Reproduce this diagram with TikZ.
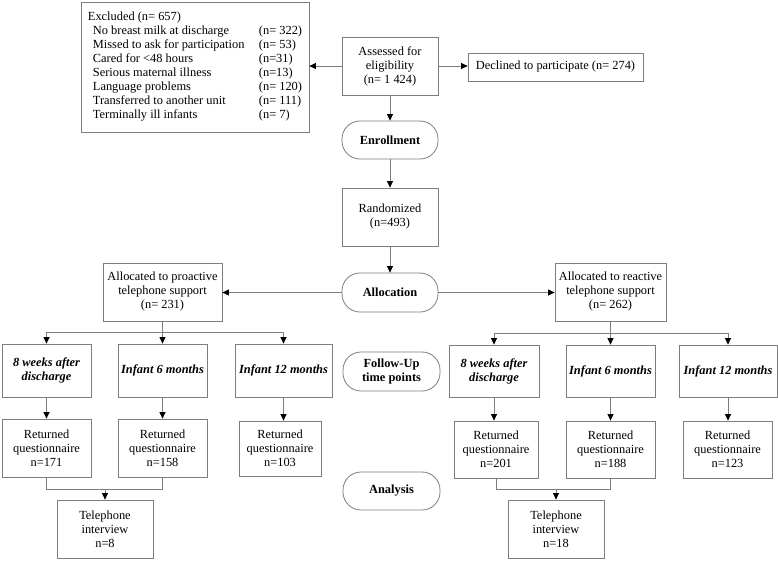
\documentclass[tikz,border=0pt]{standalone}
\usepackage{fontspec}
\setmainfont{Liberation Serif}
\usetikzlibrary{arrows.meta,calc}
\definecolor{lg}{RGB}{125,125,125}
\tikzset{
  x=1pt,y=-1pt,
  box/.style={draw=lg,line width=0.8pt,rectangle,inner sep=1pt,align=center,
     font=\fontsize{12.4}{14}\selectfont},
  rbox/.style={box,rounded corners=18pt,font=\fontsize{12.4}{14}\selectfont\bfseries},
  ibox/.style={box,font=\fontsize{12.4}{14}\selectfont\bfseries\itshape},
  conn/.style={draw=lg,line width=0.8pt},
  arr/.style={conn,-{Triangle[length=6.5pt,width=6pt,black]}},
  wh/.style 2 args={minimum width=#1pt,minimum height=#2pt},
}
\begin{document}
\begin{tikzpicture}
\useasboundingbox (0,0) rectangle (778,560);
% top
\node[box,wh={228}{130},align=left,inner xsep=2pt] (excl) at (195,67) {%
Excluded (n= 657)\\
\hspace*{5pt}\makebox[166pt][l]{No breast milk at discharge}(n= 322)\\
\hspace*{5pt}\makebox[166pt][l]{Missed to ask for participation}(n= 53)\\
\hspace*{5pt}\makebox[166pt][l]{Cared for <48 hours}(n=31)\\
\hspace*{5pt}\makebox[166pt][l]{Serious maternal illness}(n=13)\\
\hspace*{5pt}\makebox[166pt][l]{Language problems}(n= 120)\\
\hspace*{5pt}\makebox[166pt][l]{Transferred to another unit}(n= 111)\\
\hspace*{5pt}\makebox[166pt][l]{Terminally ill infants}(n= 7)};
\node[box,wh={96}{58}] (assess) at (390,66) {Assessed for\\eligibility\\(n= 1 424)};
\node[box,wh={175}{28}] (decl) at (555.5,67) {Declined to participate (n= 274)};
\node[rbox,wh={96}{38}] (enrol) at (390,140) {Enrollment};
\node[box,wh={96}{58}] (rand) at (390,217) {Randomized\\(n=493)};
\node[rbox,wh={96}{39}] (alloc) at (390,292.5) {Allocation};
\node[box,wh={119}{58}] (pro) at (162.5,292) {Allocated to proactive\\telephone support\\(n= 231)};
\node[box,wh={111}{58}] (rea) at (610.5,292) {Allocated to reactive\\telephone support\\(n= 262)};
% follow-up
\node[ibox,wh={89}{53}] (f1) at (46.5,370.5) {8 weeks after\\discharge};
\node[ibox,wh={89}{53}] (f2) at (162.5,370.5) {Infant 6 months};
\node[ibox,wh={97}{53}] (f3) at (283.5,370.5) {Infant 12 months};
\node[rbox,wh={97}{39}] (fu) at (391.5,371.5) {Follow-Up\\time points};
\node[ibox,wh={90}{52}] (f4) at (494,371) {8 weeks after\\discharge};
\node[ibox,wh={89}{52}] (f5) at (610.5,371) {Infant 6 months};
\node[ibox,wh={98}{52}] (f6) at (728,371) {Infant 12 months};
% returned
\node[box,wh={89}{58}] (r1) at (46.5,448) {Returned\\questionnaire\\n=171};
\node[box,wh={89}{58}] (r2) at (162.5,448) {Returned\\questionnaire\\n=158};
\node[box,wh={82}{55}] (r3) at (280,448.5) {Returned\\questionnaire\\n=103};
\node[box,wh={84}{57}] (r4) at (496,449.5) {Returned\\questionnaire\\n=201};
\node[box,wh={89}{57}] (r5) at (610.5,449.5) {Returned\\questionnaire\\n=188};
\node[box,wh={89}{57}] (r6) at (727.5,449.5) {Returned\\questionnaire\\n=123};
\node[rbox,wh={97}{38}] (ana) at (391.5,491) {Analysis};
\node[box,wh={96}{58}] (t1) at (105,529) {Telephone\\interview\\n=8};
\node[box,wh={96}{58}] (t2) at (556,529) {Telephone\\interview\\n=18};
% coordinates
\coordinate (bl) at (162.5,332);
\coordinate (br) at (610.5,333);
\coordinate (jl) at (105,489);
\coordinate (jr) at (556,489);
% connectors
\draw[arr] (assess.west) -- (excl.east |- assess.west);
\draw[arr] (assess.east) -- (decl.west |- assess.east);
\draw[arr] (assess) -- (enrol);
\draw[arr] (enrol) -- (rand);
\draw[arr] (rand) -- (alloc);
\draw[arr] (alloc.west) -- (pro.east |- alloc.west);
\draw[arr] (alloc.east) -- (rea.west |- alloc.east);
\draw[conn] (pro.south) -- (bl);
\draw[arr] (bl) -| (f1.north);
\draw[arr] (bl) -- (f2.north);
\draw[arr] (bl) -| (f3.north);
\draw[conn] (rea.south) -- (br);
\draw[arr] (br) -| (f4.north);
\draw[arr] (br) -- (f5.north);
\draw[arr] (br) -| (f6.north);
\draw[arr] (f1) -- (r1);
\draw[arr] (f2) -- (r2);
\draw[arr] (f3.south) -- (f3.south |- r3.north);
\draw[arr] (f4.south) -- (f4.south |- r4.north);
\draw[arr] (f5) -- (r5);
\draw[arr] (f6.south) -- (f6.south |- r6.north);
\draw[conn] (r1.south) |- (jl);
\draw[conn] (r2.south) |- (jl);
\draw[arr] (jl) -- (t1.north);
\draw[conn] (r4.south) |- (jr);
\draw[conn] (r5.south) |- (jr);
\draw[arr] (jr) -- (t2.north);
\end{tikzpicture}
\end{document}
